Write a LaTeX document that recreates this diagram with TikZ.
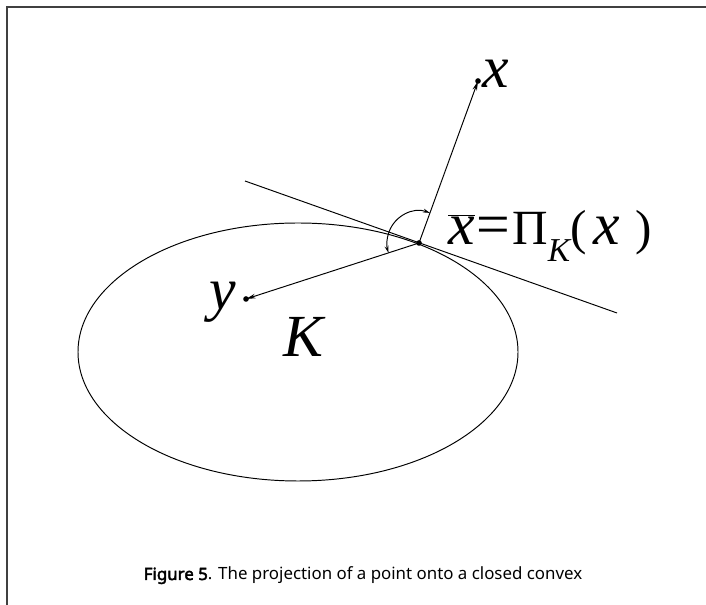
\documentclass[tikz,border=0pt]{standalone}
\usepackage{fontspec}
\newfontfamily\lblfont{Liberation Serif}
\newfontfamily\capfont{Noto Sans}[AutoFakeBold=2.5]
\usetikzlibrary{calc, arrows.meta}
\newcommand{\bigit}[1]{{\fontsize{34}{40}\selectfont\itshape #1}}
\newcommand{\smup}[1]{{\fontsize{28}{32}\selectfont #1}}

\begin{document}
\begin{tikzpicture}[scale=2, >={Stealth[length=5.5pt, width=2.6pt]}, line width=0.55pt]
    \useasboundingbox (0,0) rectangle (7.06,6.05);
    \draw[line width=0.8pt, darkgray] (0.07,0) -- (0.07,5.98) -- (7.06,5.98);
    \coordinate (O) at (2.98,2.53);
    \coordinate (X) at (4.78,5.24);
    \coordinate (Xbar) at (4.19,3.62);
    \coordinate (Y) at (2.46,3.06);
    \coordinate (T1) at (2.45,4.24);
    \coordinate (T2) at (6.17,2.92);
    \draw (O) ellipse (2.20 and 1.29);
    \draw (T1) -- (T2);
    \draw[->] (Xbar) -- (X);
    \draw[->] (Xbar) -- (Y);
    \draw[<->, >={Stealth[length=4pt, width=2.2pt]}] ($(Xbar)+(70:0.32)$) arc (70:198:0.32);
    \fill (Xbar) circle (0.8pt) (X) circle (0.8pt) (Y) circle (0.8pt);
    \node[anchor=base west, inner sep=0, font=\lblfont] (xlab) at (4.82,5.17) {\bigit{x}};
    \node[anchor=base east, inner sep=0, font=\lblfont] (ylab) at (2.36,2.95) {\bigit{y}};
    \node[anchor=base, inner sep=0, font=\lblfont] (klab) at (3.03,2.48) {\bigit{K}};
    \node[anchor=base west, inner sep=0, font=\lblfont] (plab) at (4.48,3.60)
        {$\overline{\mbox{\bigit{x}}}$\hspace{1pt}{\fontsize{34}{40}\selectfont =}\hspace{1pt}\smup{Π}\raisebox{-9.5pt}{\fontsize{19}{20}\selectfont\itshape K}\smup{(}\hspace{4pt}\bigit{x}\hspace{9pt}\smup{)}};
    \node[anchor=base, font=\capfont\fontsize{9.6}{11}\selectfont] (cap) at (3.63,0.25)
        {\textbf{Figure 5}. The projection of a point onto a closed convex};
\end{tikzpicture}
\end{document}
